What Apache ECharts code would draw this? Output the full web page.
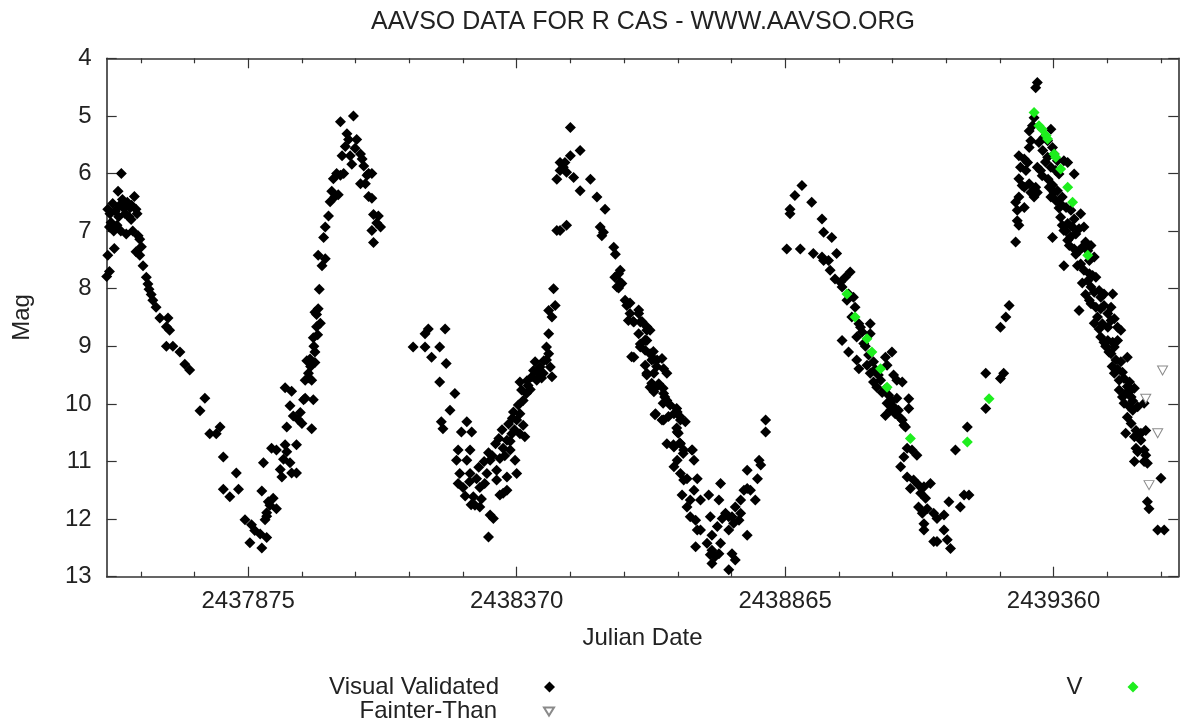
<!DOCTYPE html>
<html>
<head>
<meta charset="utf-8">
<script src="https://cdn.jsdelivr.net/npm/echarts@6/dist/echarts.min.js"></script>
<style>
html,body{margin:0;padding:0;background:#fff;}
#chart{width:1183px;height:724px;}
</style>
</head>
<body>
<div id="chart"></div>
<script>
const titleText = 'AAVSO DATA FOR R CAS - WWW.AAVSO.ORG';
const xAxisName = 'Julian Date';
const yAxisName = 'Mag';
const xMin = 2437614;
const xMax = 2439590;
const yMin = 4;
const yMax = 13;
const majorTicks = [2437875, 2438370, 2438865, 2439360];
const minorTicks = [2437677, 2437776, 2437974, 2438073, 2438172, 2438271, 2438469, 2438568, 2438667, 2438766, 2438964, 2439063, 2439162, 2439261, 2439459, 2439558];

const visualCycle1 = [[2437614,7.79],[2437619,7.70],[2437616,7.42],[2437628,7.30],[2437619,6.93],[2437616,6.62],[2437625,6.52],[2437635,6.31],[2437641,6.00],[2437622,6.85],[2437630,6.65],[2437638,6.55],[2437645,6.60],[2437650,7.05],[2437640,7.00],[2437633,6.90],[2437655,6.75],[2437659,6.80],[2437662,7.00],[2437665,6.40],[2437668,6.62],[2437660,6.55],[2437648,6.70],[2437643,6.45],[2437636,6.75],[2437627,7.00],[2437620,6.70],[2437652,6.50],[2437657,6.60],[2437670,6.70],[2437672,7.08],[2437675,7.14],[2437678,7.27],[2437668,7.36],[2437675,7.42],[2437681,7.60],[2437687,7.80],[2437690,7.92],[2437692,8.01],[2437696,8.10],[2437699,8.20],[2437705,8.32],[2437712,8.51],[2437727,8.51],[2437724,8.66],[2437730,8.72],[2437724,9.00],[2437736,9.00],[2437749,9.10],[2437758,9.31],[2437767,9.41],[2437786,10.12],[2437795,9.90],[2437804,10.52],[2437816,10.52],[2437823,10.40],[2437829,10.92],[2437853,11.20],[2437829,11.48],[2437841,11.61],[2437857,11.48],[2437869,12.01],[2437878,12.41],[2437881,12.10],[2437887,12.20],[2437900,12.50],[2437909,12.32],[2437897,12.26],[2437900,11.51],[2437903,11.02],[2437906,12.01],[2437909,11.89],[2437915,11.76],[2437921,11.64],[2437927,11.82],[2437912,11.70],[2437909,11.95],[2437918,10.77],[2437927,10.80],[2437934,11.14],[2437937,11.27],[2437940,10.96],[2437946,10.83],[2437943,10.71],[2437952,11.02],[2437955,11.20],[2437964,11.20],[2437946,10.40],[2437943,9.72],[2437955,9.78],[2437952,10.03],[2437958,10.21],[2437967,10.27],[2437971,10.15],[2437974,10.34],[2437977,9.93],[2437964,10.71],[2437980,9.59],[2437980,9.90],[2437986,9.47],[2437992,9.59],[2437989,9.22],[2437983,9.25],[2437998,9.28],[2437995,9.93],[2437992,10.43],[2437998,9.10],[2437995,8.85],[2438001,8.66],[2437998,8.41],[2438004,8.35],[2438008,8.60],[2438006,8.01],[2438011,7.60],[2438004,7.42],[2438017,7.48],[2438014,7.11],[2438017,6.93],[2438023,6.74],[2438026,6.49],[2438029,6.31],[2438032,6.09],[2438038,6.00],[2438045,6.03],[2438035,6.40],[2438041,6.37],[2438051,6.00],[2438048,5.69],[2438054,5.53],[2438057,5.31],[2438045,5.10],[2438060,5.41],[2438063,5.69],[2438066,5.84],[2438069,5.00],[2438072,5.56],[2438075,5.41],[2438082,5.66],[2438082,6.18],[2438085,5.75],[2438088,5.87],[2438091,6.18],[2438094,6.03],[2438097,6.00],[2438103,6.00],[2438097,6.40],[2438103,6.43],[2438106,6.71],[2438112,6.86],[2438115,6.74],[2438103,6.99],[2438106,7.20],[2438119,6.93],[2438001,8.45],[2438003,8.80],[2437996,9.00],[2437990,9.35],[2437987,9.55]];

const visualCycle2 = [[2438179,9.01],[2438201,8.78],[2438207,8.70],[2438201,9.01],[2438213,9.19],[2438228,9.01],[2438238,8.70],[2438240,9.30],[2438228,9.62],[2438256,9.82],[2438247,10.11],[2438231,10.31],[2438234,10.43],[2438278,10.31],[2438268,10.49],[2438287,10.49],[2438262,10.80],[2438284,10.80],[2438259,10.98],[2438278,10.98],[2438265,11.21],[2438284,11.21],[2438262,11.38],[2438271,11.45],[2438296,11.30],[2438302,11.45],[2438290,11.61],[2438293,11.76],[2438302,11.79],[2438321,11.93],[2438327,11.99],[2438318,12.31],[2438315,11.21],[2438311,11.38],[2438331,10.69],[2438321,10.98],[2438333,11.15],[2438333,11.32],[2438339,11.58],[2438345,11.55],[2438352,11.50],[2438358,10.80],[2438367,10.98],[2438370,11.21],[2438352,11.27],[2438339,10.95],[2438345,10.77],[2438352,10.63],[2438361,10.52],[2438364,10.14],[2438370,10.28],[2438376,10.17],[2438382,10.37],[2438385,10.57],[2438376,10.52],[2438373,10.02],[2438382,9.94],[2438388,9.82],[2438376,9.62],[2438379,9.76],[2438391,9.68],[2438398,9.53],[2438401,9.42],[2438407,9.59],[2438413,9.36],[2438404,9.27],[2438419,9.47],[2438425,9.24],[2438429,9.13],[2438432,9.36],[2438435,9.53],[2438425,9.01],[2438429,8.78],[2438435,8.49],[2438429,8.38],[2438441,8.29],[2438438,8.00],[2438444,6.99],[2438450,6.99],[2438462,6.90],[2438444,6.10],[2438450,5.81],[2438459,5.81],[2438469,5.69],[2438450,5.95],[2438456,5.89],[2438462,5.98],[2438469,5.20],[2438475,6.07],[2438487,5.60],[2438487,6.30],[2438506,6.10],[2438518,6.41],[2438533,6.62],[2438524,6.93],[2438527,7.08],[2438530,7.02],[2438549,7.28],[2438552,7.40],[2438558,7.74],[2438561,7.89],[2438555,7.97],[2438570,8.20],[2438573,8.29],[2438579,8.43],[2438576,8.55],[2438586,8.58],[2438595,8.43],[2438598,8.58],[2438610,8.72],[2438595,8.78],[2438586,9.19],[2438598,8.96],[2438610,8.90],[2438607,9.07],[2438616,9.13],[2438623,9.22],[2438629,9.24],[2438607,9.33],[2438610,9.47],[2438623,9.47],[2438647,9.47],[2438641,9.39],[2438616,9.71],[2438623,9.79],[2438632,9.65],[2438641,9.82],[2438647,9.94],[2438653,10.02],[2438626,10.17],[2438641,10.28],[2438660,10.17],[2438666,10.14],[2438672,10.28],[2438681,10.31],[2438666,10.49],[2438647,10.69],[2438660,10.75],[2438672,10.69],[2438678,10.80],[2438694,10.80],[2438697,10.98],[2438666,10.98],[2438660,11.09],[2438672,11.21],[2438678,11.32],[2438684,11.30],[2438675,11.58],[2438703,11.30],[2438697,11.50],[2438709,11.67],[2438690,11.67],[2438684,11.79],[2438690,11.96],[2438700,12.02],[2438703,12.19],[2438709,12.19],[2438700,12.48],[2438721,12.42],[2438730,12.28],[2438727,11.96],[2438724,11.58],[2438746,11.38],[2438743,11.67],[2438730,12.54],[2438727,12.62],[2438736,12.65],[2438743,12.60],[2438730,12.77],[2438746,12.42],[2438740,12.13],[2438749,11.99],[2438755,11.90],[2438761,11.96],[2438767,11.96],[2438770,12.07],[2438761,12.19],[2438773,11.79],[2438783,11.67],[2438789,11.50],[2438795,11.47],[2438801,11.50],[2438795,11.15],[2438810,11.67],[2438814,11.30],[2438817,10.98],[2438820,11.06],[2438795,12.28],[2438767,12.60],[2438773,12.71],[2438761,12.88],[2438829,10.28],[2438829,10.49],[2438783,11.90],[2438780,12.02],
[2438561,7.68],[2438551,7.80],[2438564,7.91],[2438558,7.99],[2438579,8.25],[2438595,8.37],[2438585,8.57],[2438601,8.57],[2438610,8.66],[2438616,8.72],[2438607,8.89],[2438598,9.01],[2438582,9.18],[2438622,9.09],[2438638,9.21],[2438619,9.24],[2438628,9.35],[2438610,9.50],[2438619,9.64],[2438631,9.67],[2438640,9.73],[2438622,9.76],[2438643,9.88],[2438640,9.99],[2438665,10.08],[2438625,10.19],[2438650,10.22],[2438638,10.28],[2438671,10.22],[2438665,10.42],[2438668,10.51],[2438659,10.71],[2438671,10.68],[2438693,10.80],[2438677,10.86],
[2438300,11.10],[2438310,11.00],[2438318,10.85],[2438325,10.90],[2438337,10.60],[2438343,10.45],[2438355,10.35],[2438362,10.25],[2438348,10.90],[2438358,10.65],[2438366,10.45],[2438389,9.60],[2438395,9.75],[2438408,9.45],[2438416,9.55],[2438420,9.25],[2438283,11.35],[2438275,11.60],[2438286,11.75],[2438305,11.65]];

const visualCycle3 = [[2438868,7.31],[2438893,7.31],[2438874,6.62],[2438874,6.70],[2438883,6.38],[2438896,6.21],[2438914,6.50],[2438933,6.79],[2438936,7.02],[2438951,7.11],[2438917,7.39],[2438933,7.45],[2438936,7.51],[2438945,7.51],[2438960,7.39],[2438948,7.68],[2438957,7.83],[2438967,7.89],[2438976,7.80],[2438985,7.71],[2438970,7.97],[2438982,8.09],[2438994,8.32],[2438988,8.49],[2439001,8.61],[2439004,8.67],[2439022,8.61],[2439022,8.78],[2438970,8.90],[2438997,8.84],[2439010,8.95],[2438982,9.10],[2438997,9.24],[2439001,9.39],[2439016,9.33],[2439028,9.27],[2439050,9.19],[2439062,9.10],[2439053,9.33],[2439022,9.47],[2439028,9.62],[2439034,9.71],[2439041,9.59],[2439050,9.74],[2439065,9.50],[2439071,9.59],[2439081,9.62],[2439053,9.99],[2439050,10.20],[2439065,10.05],[2439068,10.17],[2439074,10.11],[2439078,10.25],[2439059,10.11],[2439081,10.28],[2439084,10.37],[2439087,10.40],[2439093,9.91],[2439093,10.08],[2439078,11.09],[2439084,10.92],[2439090,10.77],[2439099,10.80],[2439108,10.89],[2439090,11.27],[2439096,11.47],[2439102,11.32],[2439111,11.41],[2439121,11.44],[2439133,11.38],[2439115,11.55],[2439124,11.64],[2439111,11.79],[2439118,11.90],[2439127,11.82],[2439139,11.90],[2439145,11.99],[2439158,11.93],[2439167,11.70],[2439121,12.08],[2439121,12.19],[2439139,12.39],[2439145,12.39],[2439158,12.19],[2439164,12.36],[2439170,12.51],[2439188,11.79],[2439195,11.58],[2439204,11.58],[2439179,10.80],[2439201,10.40],[2439235,10.08],[2439235,9.47],[2439262,9.56],[2439268,9.47],[2439262,8.67],[2439272,8.49],[2439278,8.29],[2438979,8.20],[2438991,8.15],[2439007,8.75],[2439013,9.00],[2439019,9.15],[2439031,9.40],[2439037,9.50],[2439044,9.80],[2439056,9.85],[2439062,9.95],[2439071,9.90]];

const visualCycle4 = [[2439290,7.19],[2439293,6.82],[2439296,6.90],[2439293,6.64],[2439290,6.50],[2439296,6.41],[2439306,6.59],[2439296,6.09],[2439302,6.21],[2439306,6.24],[2439315,6.18],[2439318,6.33],[2439324,6.41],[2439327,6.24],[2439330,6.33],[2439296,5.69],[2439306,5.75],[2439312,5.81],[2439315,5.55],[2439318,5.43],[2439315,5.26],[2439321,5.17],[2439324,5.03],[2439327,4.51],[2439330,4.42],[2439330,5.89],[2439336,5.95],[2439339,6.04],[2439333,5.46],[2439342,5.37],[2439349,5.43],[2439355,5.23],[2439358,5.55],[2439361,5.66],[2439367,5.78],[2439349,5.72],[2439355,5.89],[2439364,5.95],[2439370,6.01],[2439379,5.78],[2439386,5.81],[2439398,6.01],[2439352,6.24],[2439355,6.41],[2439361,6.33],[2439364,6.47],[2439373,6.53],[2439376,6.41],[2439383,6.59],[2439392,6.64],[2439373,6.76],[2439386,6.87],[2439379,6.99],[2439395,6.93],[2439398,6.79],[2439401,7.05],[2439407,6.96],[2439410,6.70],[2439416,6.93],[2439358,7.11],[2439386,7.16],[2439389,7.25],[2439398,7.31],[2439407,7.34],[2439413,7.28],[2439419,7.19],[2439423,7.34],[2439429,7.25],[2439435,7.45],[2439426,7.51],[2439410,7.57],[2439379,7.60],[2439416,7.68],[2439426,7.74],[2439432,7.77],[2439438,7.80],[2439423,7.86],[2439429,7.97],[2439435,8.06],[2439444,8.03],[2439447,8.15],[2439453,8.09],[2439469,8.09],[2439407,8.38],[2439429,8.26],[2439438,8.32],[2439447,8.35],[2439453,8.29],[2439460,8.43],[2439466,8.32],[2439441,8.49],[2439450,8.61],[2439460,8.67],[2439466,8.55],[2439472,8.52],[2439478,8.67],[2439484,8.72],[2439447,8.84],[2439453,8.93],[2439460,8.90],[2439469,8.93],[2439478,8.90],[2439472,9.01],[2439466,9.13],[2439475,9.24],[2439484,9.27],[2439496,9.19],[2439472,9.47],[2439481,9.59],[2439490,9.56],[2439500,9.62],[2439503,9.76],[2439481,9.76],[2439487,9.88],[2439493,9.82],[2439503,9.88],[2439509,9.73],[2439490,9.99],[2439500,10.05],[2439506,10.11],[2439515,10.05],[2439527,9.99],[2439496,10.23],[2439503,10.34],[2439512,10.46],[2439493,10.51],[2439509,10.57],[2439521,10.51],[2439530,10.46],[2439521,10.63],[2439512,10.77],[2439515,10.83],[2439527,10.80],[2439530,10.89],[2439509,11.00],[2439527,11.00],[2439533,11.03],[2439533,11.70],[2439536,11.82],[2439558,11.29],[2439552,12.19],[2439564,12.19],[2439299,5.89],[2439309,5.95],[2439340,5.60],[2439345,5.80],[2439350,6.10],[2439358,6.20],[2439367,6.30],[2439370,6.60],[2439376,6.90],[2439383,7.00],[2439392,7.10],[2439401,7.40],[2439404,7.60],[2439413,7.90],[2439419,8.10],[2439426,8.20],[2439435,8.60],[2439444,8.70],[2439456,9.00],[2439462,9.10],[2439468,9.35],[2439478,9.40],[2439487,9.45],[2439496,9.70],[2439506,9.95]];

const vBand = [[2438979,8.09],[2438994,8.49],[2439016,8.87],[2439025,9.10],[2439041,9.39],[2439053,9.71],[2439096,10.60],[2439201,10.66],[2439241,9.91],[2439324,4.94],[2439333,5.17],[2439339,5.23],[2439346,5.34],[2439349,5.40],[2439361,5.66],[2439364,5.72],[2439373,5.92],[2439386,6.24],[2439395,6.50],[2439423,7.42]];

const fainterThan = [[2439561,9.42],[2439530,9.91],[2439552,10.51],[2439536,11.41]];

const visualValidated = visualCycle1.concat(visualCycle2, visualCycle3, visualCycle4);

const FONT = '"Liberation Sans", Arial, sans-serif';
const AXIS_COLOR = '#333';
const TEXT_COLOR = '#222';
const DIAMOND_ICON = 'path://M5,0L10,5L5,10L0,5Z';
const TRIANGLE_ICON = 'path://M0,0L10,0L5,8Z';

function plainNumber(v) { return String(v); }

function xAx(pos, ticks, len, showLine, showLabel) {
  return {
    type: 'value', min: xMin, max: xMax, position: pos,
    axisLine: {show: showLine, onZero: false, lineStyle: {color: AXIS_COLOR, width: 1.6}},
    axisTick: {show: true, inside: true, length: len, customValues: ticks, lineStyle: {color: AXIS_COLOR, width: 1.2}},
    axisLabel: showLabel ? {show: true, customValues: ticks, formatter: plainNumber, margin: 13, fontSize: 24, color: TEXT_COLOR, fontFamily: FONT} : {show: false},
    splitLine: {show: false}
  };
}
function yAx(pos, showLabel) {
  return {
    type: 'value', inverse: true, min: yMin, max: yMax, interval: 1, position: pos,
    axisLine: {show: true, onZero: false, lineStyle: {color: AXIS_COLOR, width: 1.6}},
    axisTick: {show: true, inside: true, length: 10, lineStyle: {color: AXIS_COLOR, width: 1.2}},
    axisLabel: showLabel ? {show: true, formatter: plainNumber, margin: 15, fontSize: 24, color: TEXT_COLOR, fontFamily: FONT} : {show: false},
    splitLine: {show: false}
  };
}

const xBottom = xAx('bottom', majorTicks, 10, true, true);
xBottom.name = xAxisName;
xBottom.nameLocation = 'middle';
xBottom.nameGap = 50;
xBottom.nameTextStyle = {fontSize: 24, color: TEXT_COLOR, fontFamily: FONT};
const yLeft = yAx('left', true);
yLeft.name = yAxisName;
yLeft.nameLocation = 'middle';
yLeft.nameRotate = 90;
yLeft.nameGap = 72;
yLeft.nameTextStyle = {fontSize: 24, color: TEXT_COLOR, fontFamily: FONT};

function legendText(padRight) {
  return {fontSize: 24, color: TEXT_COLOR, fontFamily: FONT, padding: [0, padRight, 0, 0]};
}

const option = {
  animation: false,
  backgroundColor: '#fff',
  title: {text: titleText, left: 371, top: 10, padding: 0,
    textStyle: {fontSize: 25, fontWeight: 'normal', color: TEXT_COLOR, fontFamily: FONT}},
  grid: {left: 106.7, right: 4.7, top: 58.3, bottom: 147.3, containLabel: false, outerBoundsMode: 'none'},
  legend: [
    {data: [{name: 'Visual Validated', icon: DIAMOND_ICON}], orient: 'vertical', align: 'right', right: 628, top: 675,
      padding: 0, itemWidth: 11, itemHeight: 11, selectedMode: false, textStyle: legendText(40)},
    {data: [{name: 'Fainter-Than', icon: TRIANGLE_ICON}], orient: 'vertical', align: 'right', right: 628, top: 699.5,
      padding: 0, itemWidth: 10, itemHeight: 8, selectedMode: false, textStyle: legendText(42)},
    {data: [{name: 'V', icon: DIAMOND_ICON}], orient: 'vertical', align: 'right', right: 44.5, top: 675,
      padding: 0, itemWidth: 11, itemHeight: 11, selectedMode: false, textStyle: legendText(40)}
  ],
  xAxis: [
    xBottom,
    xAx('bottom', minorTicks, 5, false, false),
    xAx('top', majorTicks, 10, true, false),
    xAx('top', minorTicks, 5, false, false)
  ],
  yAxis: [yLeft, yAx('right', false)],
  series: [
    {name: 'Visual Validated', type: 'scatter', xAxisIndex: 0, yAxisIndex: 0, data: visualValidated,
      symbol: 'diamond', symbolSize: 11, itemStyle: {color: '#000', opacity: 1}, silent: true, z: 2},
    {name: 'V', type: 'scatter', xAxisIndex: 0, yAxisIndex: 0, data: vBand,
      symbol: 'diamond', symbolSize: 11, itemStyle: {color: '#1eee1e', opacity: 1}, silent: true, z: 3},
    {name: 'Fainter-Than', type: 'scatter', xAxisIndex: 0, yAxisIndex: 0, data: fainterThan,
      symbol: 'triangle', symbolRotate: 180, symbolSize: [10, 9],
      itemStyle: {color: '#fff', borderColor: '#8a8a8a', borderWidth: 1, opacity: 1}, silent: true, z: 4}
  ]
};

const chart = echarts.init(document.getElementById('chart'), null, {renderer: 'canvas'});
chart.setOption(option);
</script>
</body>
</html>
